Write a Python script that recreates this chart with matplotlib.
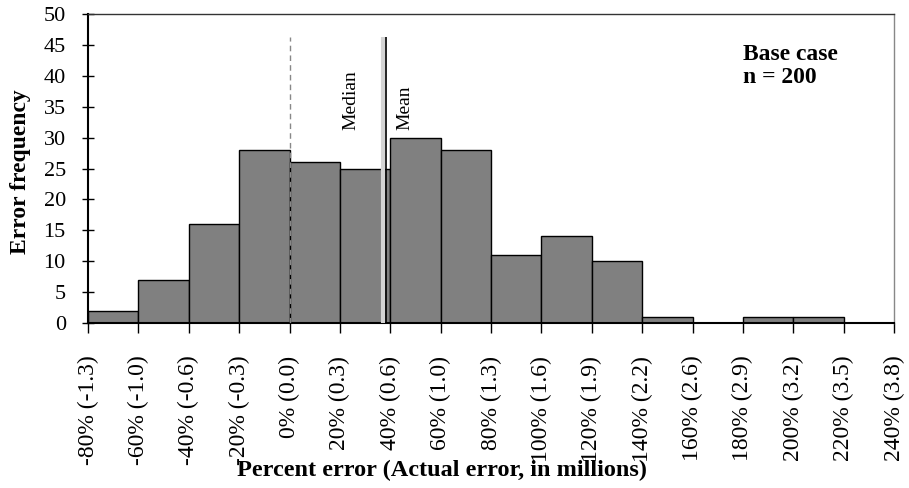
import matplotlib
matplotlib.use("Agg")
import matplotlib.pyplot as plt

plt.rcParams['font.family'] = ['Liberation Serif', 'DejaVu Serif']

# bin edges (percent error) and the actual-error value in millions for each tick
bin_edges = [-80, -60, -40, -20, 0, 20, 40, 60, 80, 100, 120, 140, 160, 180, 200, 220, 240]
millions = ['-1.3', '-1.0', '-0.6', '-0.3', '0.0', '0.3', '0.6', '1.0', '1.3',
            '1.6', '1.9', '2.2', '2.6', '2.9', '3.2', '3.5', '3.8']
counts = [2, 7, 16, 28, 26, 25, 30, 28, 11, 14, 10, 1, 0, 1, 1, 0]

median_pct = 37.2
mean_pct = 38.3
ref_top = 46.3

fig = plt.figure(figsize=(9.09, 4.88), dpi=100)
ax = fig.add_axes([88/909, 1 - 323/488, (894 - 88)/909, (323 - 14)/488])

lefts = [e for e, c in zip(bin_edges[:-1], counts) if c > 0]
heights = [c for c in counts if c > 0]
ax.bar(lefts, heights, width=20, align='edge', color='#808080', edgecolor='black', linewidth=1.0, zorder=2)

# zero reference line
ax.plot([0, 0], [0, ref_top], color='#888888', linestyle=(0, (4, 3)), linewidth=1.0, zorder=3)
# median (grey) and mean (black)
ax.plot([median_pct, median_pct], [0, ref_top], color='#d4d4d4', linewidth=3.0, zorder=3, solid_capstyle='butt')
ax.plot([mean_pct, mean_pct], [0, ref_top], color='black', linewidth=1.2, zorder=4, solid_capstyle='butt')
ax.text(median_pct - 9.5, 31.3, 'Median', rotation=90, ha='right', va='bottom', fontsize=14)
ax.text(mean_pct + 4, 31.3, 'Mean', rotation=90, ha='left', va='bottom', fontsize=14)

ax.text(180, 45.2, 'Base case\nn = 200', ha='left', va='top', fontsize=17, fontweight='bold', linespacing=1.15)

ax.set_xlim(-80, 240)
ax.set_ylim(0, 50)
ax.set_xticks(bin_edges)
ax.set_xticklabels([f'{e}% ({m})' for e, m in zip(bin_edges, millions)], rotation=90, va='top', fontsize=17)
ax.set_yticks(range(0, 51, 5))
ax.tick_params(axis='y', direction='inout', length=8, width=1, labelsize=16, pad=12)
ax.tick_params(axis='x', direction='out', length=7, width=1, pad=16.5)

for s in ['left', 'bottom']:
    ax.spines[s].set_linewidth(1.5)
    ax.spines[s].set_color('black')
ax.spines['top'].set_color('#333333')
ax.spines['top'].set_linewidth(1.0)
ax.spines['right'].set_color('#888888')
ax.spines['right'].set_linewidth(1.0)

fig.text(21/909, 1 - 172/488, 'Error frequency', rotation=90, ha='center', va='center',
         fontsize=17, fontweight='bold')
fig.text(442/909, 1 - 470/488, 'Percent error (Actual error, in millions)', ha='center', va='center',
         fontsize=17.5, fontweight='bold')

fig.savefig('out.png', dpi=100)
